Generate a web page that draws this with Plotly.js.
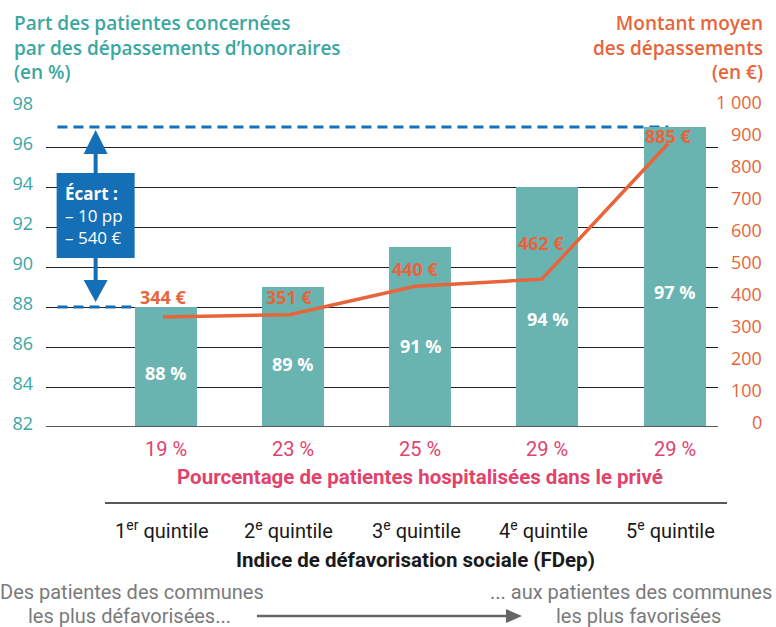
<!DOCTYPE html>
<html>
<head>
<meta charset="utf-8">
<script src="https://cdn.plot.ly/plotly-3.0.1.min.js"></script>
<style>html,body{margin:0;padding:0;background:#fff;}#chart{width:776px;height:627px;}</style>
</head>
<body>
<div id="chart"></div>
<script>
// ---- data ----
const quintiles = ['1<sup>er</sup> quintile', '2<sup>e</sup> quintile', '3<sup>e</sup> quintile', '4<sup>e</sup> quintile', '5<sup>e</sup> quintile'];
const partPatientes = [88, 89, 91, 94, 97];          // % (left axis)
const montantMoyen = [344, 351, 440, 462, 885];      // € (right axis)
const partPrive = [19, 23, 25, 29, 29];              // % hospitalisées dans le privé
const leftTicks = [82, 84, 86, 88, 90, 92, 94, 96, 98];
const rightTicks = [0, 100, 200, 300, 400, 500, 600, 700, 800, 900, 1000];

// ---- styles ----
const TEAL = '#3aa7a0', BAR = '#69b3b0', ORANGE = '#e8643a', PINK = '#e0436b', BLUE = '#156fb6', GREY = '#7a7a7a';
const SANS = '"Open Sans", "Noto Sans", sans-serif';
const COND = 'Roboto, "Liberation Sans", sans-serif';
const labelShift = [20, 18, 17, 36, 8];
const W = 776, H = 627, L = 46, R = 718, T = 107, B = 427;
const X = px => (px - L) / (R - L);
const Y = py => (B - py) / (B - T);
const idx = partPatientes.map((_, i) => i);
const base = leftTicks[0];
const hi = Math.max(...partPatientes), lo = Math.min(...partPatientes);
const xArrow = -0.55;

const traces = [
  {type: 'bar', x: idx, y: partPatientes.map(v => v - base), base: base, width: 0.487,
   marker: {color: BAR}, hoverinfo: 'skip', xaxis: 'x', yaxis: 'y'},
  {type: 'scatter', mode: 'lines', x: idx, y: montantMoyen, xaxis: 'x2', yaxis: 'y2',
   line: {color: ORANGE, width: 3.5}, hoverinfo: 'skip'}
];

const ann = [];
const txt = (o) => ann.push(Object.assign({showarrow: false, xanchor: 'center', yanchor: 'middle'}, o));
// bar labels
partPatientes.forEach((v, i) => txt({xref: 'x', yref: 'y', x: i, y: base + (v - base) * 0.45,
  text: `<b>${v} %</b>`, font: {family: SANS, size: 18, color: '#fff'}}));
// line labels
montantMoyen.forEach((v, i) => txt({xref: 'x2', yref: 'y2', x: i, y: v, yshift: labelShift[i],
  text: `<b>${v} €</b>`, font: {family: SANS, size: 18, color: ORANGE}}));
// right axis labels
rightTicks.forEach(v => txt({xref: 'paper', yref: 'y2', x: X(764), y: v, xanchor: 'right', yshift: 5,
  text: v >= 1000 ? String(v).replace(/(\d)(\d{3})$/, '$1\u00a0$2') : String(v),
  font: {family: SANS, size: 18, color: ORANGE}}));
// titles
txt({xref: 'paper', yref: 'paper', x: X(12), y: Y(8), xanchor: 'left', yanchor: 'top', align: 'left',
  text: 'Part des patientes concernées<br>par des dépassements d’honoraires<br>(en %)',
  font: {family: SANS, size: 19, color: TEAL, weight: 600}});
txt({xref: 'paper', yref: 'paper', x: X(765), y: Y(8), xanchor: 'right', yanchor: 'top', align: 'right',
  text: 'Montant moyen<br>des dépassements<br>(en €)',
  font: {family: SANS, size: 19, color: ORANGE, weight: 600}});
// écart box text
txt({xref: 'x', yref: 'y', x: xArrow, y: hi, xshift: -33, yshift: -88, xanchor: 'left', align: 'left',
  text: '<b>Écart :</b><br>– 10 pp<br>– 540 €', font: {family: SANS, size: 17, color: '#fff'}});
// private-hospital row
partPrive.forEach((v, i) => txt({xref: 'x', yref: 'paper', x: i, y: Y(449),
  text: `${v} %`, font: {family: COND, size: 20, color: PINK}}));
txt({xref: 'paper', yref: 'paper', x: X(420), y: Y(477),
  text: '<b>Pourcentage de patientes hospitalisées dans le privé</b>',
  font: {family: COND, size: 20.5, color: PINK}});
// quintiles
quintiles.forEach((q, i) => txt({xref: 'x', yref: 'paper', x: i, xshift: -4, y: Y(530),
  text: q, font: {family: COND, size: 20, color: '#1a1a1a'}}));
txt({xref: 'paper', yref: 'paper', x: X(415), y: Y(560),
  text: '<b>Indice de défavorisation sociale (FDep)</b>', font: {family: COND, size: 20.5, color: '#1a1a1a'}});
// bottom grey texts
txt({xref: 'paper', yref: 'paper', x: X(132), y: Y(592), text: 'Des patientes des communes',
  font: {family: COND, size: 20, color: GREY}});
txt({xref: 'paper', yref: 'paper', x: X(129), y: Y(616), text: 'les plus défavorisées...',
  font: {family: COND, size: 20, color: GREY}});
txt({xref: 'paper', yref: 'paper', x: X(774), y: Y(592), xanchor: 'right', text: '... aux patientes des communes',
  font: {family: COND, size: 20, color: GREY}});
txt({xref: 'paper', yref: 'paper', x: X(638), y: Y(616), text: 'les plus favorisées',
  font: {family: COND, size: 20, color: GREY}});

const shapes = [
  // dashed reference lines
  {type: 'line', layer: 'between', xref: 'x', yref: 'y', x0: -0.85, x1: 3.95, y0: hi, y1: hi,
   line: {color: BLUE, width: 3, dash: '10px,6px'}},
  {type: 'line', layer: 'between', xref: 'x', yref: 'y', x0: -0.85, x1: -0.24, y0: lo, y1: lo,
   line: {color: BLUE, width: 3, dash: '10px,6px'}},
  // arrow shaft
  {type: 'line', xref: 'x', yref: 'y', x0: xArrow, x1: xArrow, y0: lo + 1, y1: hi - 1, line: {color: BLUE, width: 4}},
  // arrowheads
  {type: 'path', xref: 'x', yref: 'y', xsizemode: 'pixel', ysizemode: 'pixel', xanchor: xArrow, yanchor: hi,
   path: 'M 0 -3 L -12 -27 L 12 -27 Z', fillcolor: BLUE, line: {width: 0}},
  {type: 'path', xref: 'x', yref: 'y', xsizemode: 'pixel', ysizemode: 'pixel', xanchor: xArrow, yanchor: lo,
   path: 'M 0 5 L -12 27 L 12 27 Z', fillcolor: BLUE, line: {width: 0}},
  // écart box
  {type: 'rect', xref: 'x', yref: 'y', xsizemode: 'pixel', ysizemode: 'pixel', xanchor: xArrow, yanchor: hi,
   x0: -39, x1: 39, y0: -131, y1: -46, fillcolor: BLUE, line: {width: 0}},
  // bottom axis line
  {type: 'line', xref: 'paper', yref: 'y', x0: 0, x1: 1, y0: base, y1: base, line: {color: '#5a5a5a', width: 2}},
  // separator line
  {type: 'line', xref: 'paper', yref: 'paper', x0: X(105), x1: X(727), y0: Y(503), y1: Y(503), line: {color: '#222', width: 1.5}},
  // bottom grey arrow
  {type: 'line', xref: 'paper', yref: 'paper', x0: X(257), x1: X(510), y0: Y(616), y1: Y(616), line: {color: '#666', width: 2.5}},
  {type: 'path', xref: 'paper', yref: 'paper', xsizemode: 'pixel', ysizemode: 'pixel', xanchor: X(522), yanchor: Y(616),
   path: 'M 0 0 L -16 7 L -16 -7 Z', fillcolor: '#666', line: {width: 0}}
];

const layout = {
  width: W, height: H, margin: {l: L, r: W - R, t: T, b: H - B, pad: 0},
  paper_bgcolor: '#fff', plot_bgcolor: '#fff', showlegend: false, bargap: 0,
  xaxis: {range: [-0.94, 4.34], showgrid: false, zeroline: false, showticklabels: false, showline: false, fixedrange: true},
  xaxis2: {range: [-0.927, 4.396], overlaying: 'x', visible: false, fixedrange: true},
  yaxis: {range: [82, 98], tickvals: leftTicks, ticktext: leftTicks.map(String), showgrid: true, gridcolor: '#222', gridwidth: 1,
          zeroline: false, showline: false, ticks: '', ticklabelstandoff: 12, ticklabelshift: -3,
          tickfont: {family: SANS, size: 18, color: TEAL}, fixedrange: true},
  yaxis2: {range: [0, 1000], overlaying: 'y', side: 'right', showgrid: false, zeroline: false, showticklabels: false, fixedrange: true},
  annotations: ann, shapes: shapes
};

Plotly.newPlot('chart', traces, layout, {displayModeBar: false, staticPlot: true});
</script>
</body>
</html>
